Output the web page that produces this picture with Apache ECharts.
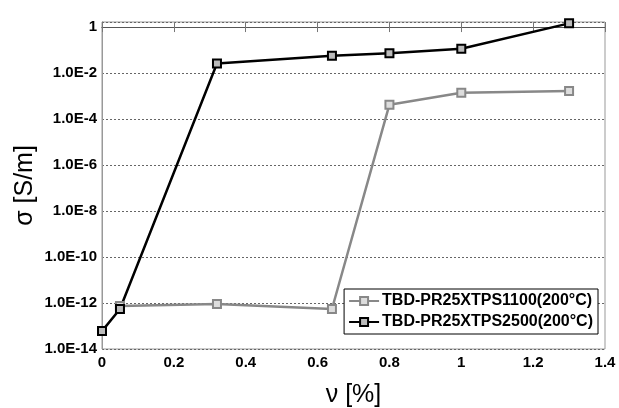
<!DOCTYPE html>
<html>
<head>
<meta charset="utf-8">
<script src="https://cdn.jsdelivr.net/npm/echarts@6/dist/echarts.min.js"></script>
<style>
  html, body { margin: 0; padding: 0; background: #fff; }
  #main { width: 619px; height: 408px; }
</style>
</head>
<body>
<div id="main"></div>
<script>
    // 数据 (x: 含量 %, y: 电导率 S/m)
    var seriesNames = ['TBD-PR25XTPS1100(200°C)', 'TBD-PR25XTPS2500(200°C)'];
    var x1100 = [0.05, 0.32, 0.64, 0.8, 1.0, 1.3];
    var y1100 = [7.4e-13, 9e-13, 5.5e-13, 4.2e-4, 1.4e-3, 1.65e-3];
    var x2500 = [0, 0.05, 0.32, 0.64, 0.8, 1.0, 1.3];
    var y2500 = [6e-14, 5.5e-13, 2.6e-2, 5.7e-2, 7.2e-2, 0.114, 1.45];
    var xTicks = [0, 0.2, 0.4, 0.6, 0.8, 1, 1.2, 1.4];
    var yTickExps = [-14, -12, -10, -8, -6, -4, -2, 0];

    function toPairs(xs, ys) {
        return xs.map(function (x, i) { return [x, Math.log10(ys[i])]; });
    }

    var labelFont = { fontFamily: 'Liberation Sans, Arial', fontWeight: 'bold', fontSize: 15, color: '#000' };

    var option = {
        animation: false,
        backgroundColor: '#fff',
        textStyle: { fontFamily: 'Liberation Sans, Arial' },
        grid: {
            left: 102, right: 14, top: 22, bottom: 59,
            outerBoundsMode: 'none',
            show: true, borderColor: '#999', borderWidth: 1
        },
        legend: {
            data: seriesNames,
            orient: 'vertical',
            right: 21,
            top: 289,
            itemWidth: 30,
            itemHeight: 10,
            itemGap: 5,
            padding: [4, 5, 4, 4],
            borderColor: '#000',
            borderWidth: 1,
            backgroundColor: '#fff',
            textStyle: { fontFamily: 'Liberation Sans, Arial', fontWeight: 'bold', fontSize: 16, color: '#000', padding: [0, 0, 0, -2] }
        },
        xAxis: [
            {
                type: 'value',
                min: 0,
                max: xTicks[xTicks.length - 1],
                interval: 0.2,
                name: 'ν [%]',
                nameLocation: 'middle',
                nameGap: 34,
                nameTextStyle: { fontFamily: 'Liberation Sans, Arial', fontSize: 25, color: '#000' },
                axisLine: { lineStyle: { color: '#999', width: 1 } },
                axisTick: { inside: true, length: 5, lineStyle: { color: '#777' } },
                axisLabel: Object.assign({ margin: 6, formatter: function (v) { return String(+v.toFixed(1)); } }, labelFont),
                splitLine: { show: false }
            },
            {
                type: 'value',
                position: 'top',
                min: 0,
                max: xTicks[xTicks.length - 1],
                interval: 0.2,
                axisLine: { lineStyle: { color: '#555', width: 1 } },
                axisTick: { inside: true, length: 5, lineStyle: { color: '#777' } },
                axisLabel: { show: false },
                splitLine: { show: false }
            }
        ],
        yAxis: [
            {
                type: 'value',
                min: yTickExps[0],
                max: 0.22,
                interval: 2,
                name: 'σ [S/m]',
                nameLocation: 'middle',
                nameGap: 64,
                nameMoveOverlap: false,
                nameRotate: 90,
                nameTextStyle: { fontFamily: 'Liberation Sans, Arial', fontSize: 25, color: '#000' },
                axisLine: { show: true, lineStyle: { color: '#999', width: 1 } },
                axisTick: { show: false },
                axisLabel: Object.assign({
                    margin: 5,
                    showMaxLabel: false,
                    formatter: function (v) {
                        if (yTickExps.indexOf(v) < 0) return '';
                        return v === 0 ? '1' : '1.0E' + v;
                    }
                }, labelFont),
                splitLine: { show: true, lineStyle: { type: [2, 2], color: '#666', width: 1 } }
            },
            {
                type: 'value',
                position: 'right',
                min: yTickExps[0],
                max: 0.22,
                interval: 2,
                axisLine: { show: true, lineStyle: { color: '#999', width: 1 } },
                axisTick: { show: false },
                axisLabel: { show: false },
                splitLine: { show: false }
            }
        ],
        series: [
            {
                name: seriesNames[0],
                type: 'line',
                data: toPairs(x1100, y1100),
                symbol: 'rect',
                symbolSize: 8,
                lineStyle: { color: '#888', width: 2.5 },
                itemStyle: { color: '#ddd', borderColor: '#888', borderWidth: 2 }
            },
            {
                name: seriesNames[1],
                type: 'line',
                data: toPairs(x2500, y2500),
                symbol: 'rect',
                symbolSize: 8,
                lineStyle: { color: '#000', width: 2.5 },
                itemStyle: { color: '#bbb', borderColor: '#000', borderWidth: 2 }
            }
        ]
    };

    var myChart = echarts.init(document.getElementById('main'), null, { renderer: 'canvas' });
    myChart.setOption(option);
</script>
</body>
</html>
